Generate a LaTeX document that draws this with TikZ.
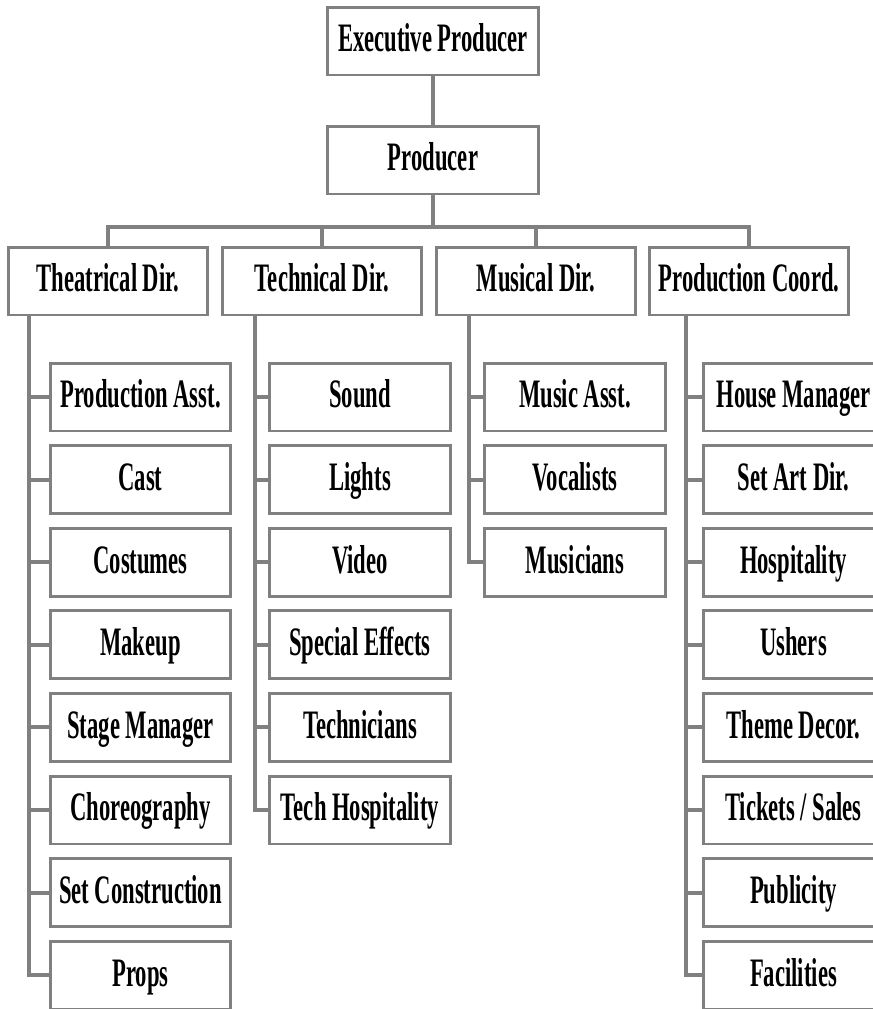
\documentclass[tikz,border=0pt]{standalone}
\usepackage{fontspec}
\usepackage{xcolor}
\newfontfamily\orgfont{Liberation Serif}[FakeStretch=0.56]
\definecolor{lin}{RGB}{128, 128, 128}

\tikzset{
  orgbox/.style={draw=lin, line width=1.7pt, fill=white, minimum height=1.36cm,
    inner sep=0pt, text height=15.4pt, text depth=3pt,
    font=\orgfont\bfseries\fontsize{23}{26}\selectfont},
  headbox/.style={orgbox, minimum width=4.22cm},
  dirbox/.style={orgbox, minimum width=4cm},
  subbox/.style={orgbox, minimum width=3.62cm},
  link/.style={draw=lin, line width=2.3pt}
}

\begin{document}
\begin{tikzpicture}[x=0.02cm, y=-0.02cm]
  \useasboundingbox (0,0) rectangle (873,1009);
  \clip (0,0) rectangle (873,1009);

  % top of the chart
  \node[headbox] (exec) at (433, 41) {Executive Producer};
  \node[headbox] (prod) at (433, 160) {Producer};
  \coordinate (bus) at (433, 227);

  % directors
  \node[dirbox] (theat) at (108, 281) {Theatrical Dir.};
  \node[dirbox] (tech) at (322, 281) {Technical Dir.};
  \node[dirbox] (music) at (536, 281) {Musical Dir.};
  \node[dirbox] (coord) at (749, 281) {Production Coord.};

  % staff under each director
  \foreach \txt [count=\i] in {Production Asst., Cast, Costumes, Makeup,
      Stage Manager, Choreography, Set Construction, Props}
    \node[subbox] (t\i) at (140.5, {314.4+82.6*\i}) {\txt};
  \foreach \txt [count=\i] in {Sound, Lights, Video, Special Effects,
      Technicians, Tech Hospitality}
    \node[subbox] (k\i) at (360, {314.4+82.6*\i}) {\txt};
  \foreach \txt [count=\i] in {Music Asst., Vocalists, Musicians}
    \node[subbox] (m\i) at (575, {314.4+82.6*\i}) {\txt};
  \foreach \txt [count=\i] in {House Manager, Set Art Dir., Hospitality, Ushers,
      Theme Decor., Tickets / Sales, Publicity, Facilities}
    \node[subbox] (c\i) at (793.5, {314.4+82.6*\i}) {\txt};

  % connectors
  \draw[link] (exec) -- (prod);
  \draw[link] (prod) -- (bus);
  \draw[link] (theat.north) |- (bus) -| (coord.north);
  \draw[link] (tech.north) -- (tech.north |- bus);
  \draw[link] (music.north) -- (music.north |- bus);

  \coordinate (tcol) at (29, 0);
  \coordinate (kcol) at (255, 0);
  \coordinate (mcol) at (469, 0);
  \coordinate (ccol) at (686, 0);

  \draw[link] (theat.south -| tcol) |- (t8.west);
  \foreach \i in {1,...,7}
    \draw[link] (t\i.west) -- (t\i.west -| tcol);
  \draw[link] (tech.south -| kcol) |- (k6.west);
  \foreach \i in {1,...,5}
    \draw[link] (k\i.west) -- (k\i.west -| kcol);
  \draw[link] (music.south -| mcol) |- (m3.west);
  \foreach \i in {1,2}
    \draw[link] (m\i.west) -- (m\i.west -| mcol);
  \draw[link] (coord.south -| ccol) |- (c8.west);
  \foreach \i in {1,...,7}
    \draw[link] (c\i.west) -- (c\i.west -| ccol);
\end{tikzpicture}
\end{document}
